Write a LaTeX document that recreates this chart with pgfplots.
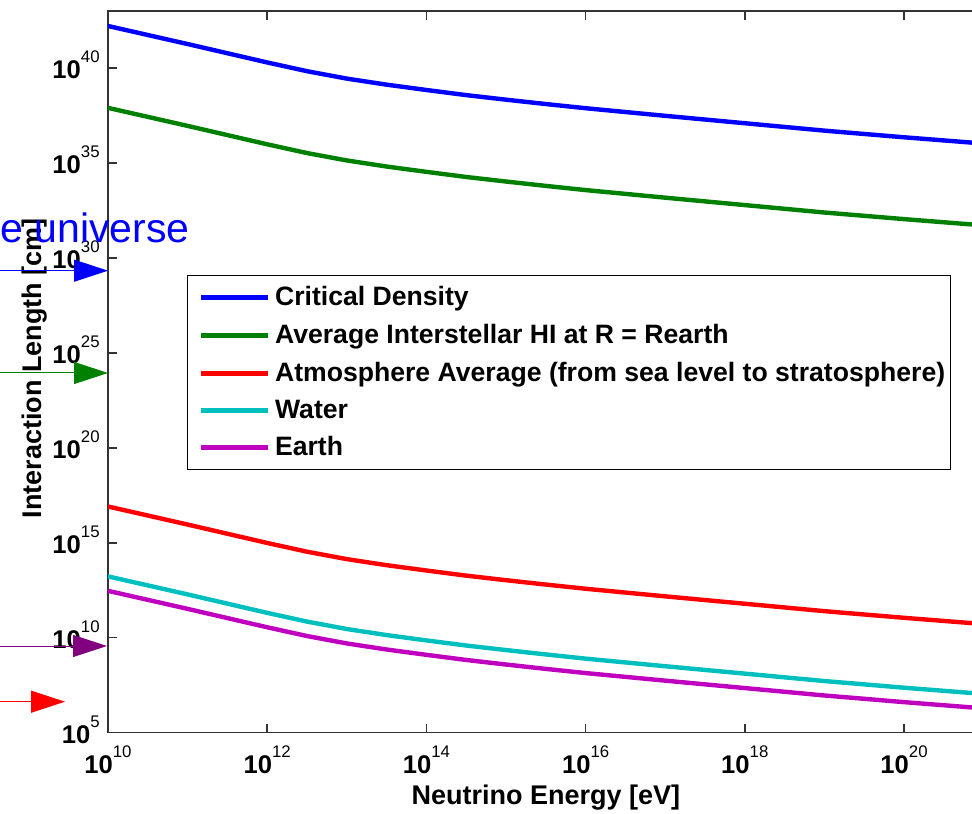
\documentclass[border=0pt]{standalone}
\usepackage{fontspec}
\setmainfont{Liberation Sans}
\usepackage{pgfplots}
\pgfplotsset{compat=1.18}
\usetikzlibrary{arrows.meta}
\definecolor{mblue}{rgb}{0,0,1}
\definecolor{mgreen}{rgb}{0,0.5,0}
\definecolor{mred}{rgb}{1,0,0}
\definecolor{mcyan}{rgb}{0,0.75,0.75}
\definecolor{mmag}{rgb}{0.75,0,0.75}
\definecolor{arrpurple}{rgb}{0.5,0,0.5}
\newcommand{\tl}[1]{\textbf{10}\raisebox{7.8pt}{\fontsize{8.4}{9}\selectfont #1}}
\begin{document}
\begin{tikzpicture}
\path[use as bounding box] (0,0) rectangle (486pt,406.5pt);
\begin{axis}[
  at={(54pt,40.15pt)}, anchor=south west,
  scale only axis, width=437.8pt, height=360.85pt,
  xmode=log, ymode=log,
  xmin=1e10, xmax=1e21, ymin=1e5, ymax=1e43,
  xtick={1e10,1e12,1e14,1e16,1e18,1e20},
  xticklabels={\tl{10},\tl{12},\tl{14},\tl{16},\tl{18},\tl{20}},
  ytick={1e5,1e10,1e15,1e20,1e25,1e30,1e35,1e40},
  yticklabels={\tl{5},\tl{10},\tl{15},\tl{20},\tl{25},\tl{30},\tl{35},\tl{40}},
  ytick pos=left,
  tick align=inside,
  major tick length=4.5pt,
  minor tick style={draw=none},
  tick style={black!80, line width=0.75pt},
  axis line style={black!80, line width=0.75pt},
  tick label style={font=\fontsize{12.8}{14}\selectfont, inner sep=0pt},
  xticklabel style={anchor=north, yshift=-6.5pt},
  yticklabel style={anchor=base east, xshift=-4pt, yshift=-5.15pt},
  xlabel={Neutrino Energy [eV]},
  ylabel={Interaction Length [cm]},
  xlabel style={at={(axis description cs:0.5,-0.0988)}, anchor=base, inner sep=0pt, font=\fontsize{13.5}{15}\selectfont\bfseries},
  ylabel style={at={(axis description cs:-0.0765,0.505)}, anchor=base, inner sep=0pt, font=\fontsize{13.5}{15}\selectfont\bfseries},
  legend cell align=left,
  legend image code/.code={\path (-3.1pt,0pt); \draw[#1, line width=2.5pt] (0pt,0pt) -- (33.5pt,0pt);},
  legend style={at={(axis description cs:0.0902,0.6345)}, anchor=north west,
    draw=black, line width=0.6pt, fill=white,
    font=\fontsize{13.3}{15}\selectfont\bfseries,
    inner xsep=2.5pt, inner ysep=3.4pt, row sep=3.8pt,
    nodes={inner xsep=0pt},
    /tikz/every odd column/.append style={column sep=2.3pt}},
]
\addplot[mblue, line width=2.2pt] coordinates {
 (1e10,1.622e42) (1e11,1.82e41) (1e12,1.95e40) (3.162e12,6.76e39) (1e13,2.75e39)
 (3.162e13,1.32e39) (1e14,6.92e38) (3.162e14,3.72e38) (1e15,2.14e38) (3.162e15,1.26e38)
 (1e16,7.59e37) (1e17,3.02e37) (1e18,1.23e37) (1e19,5.01e36) (1e20,2.24e36) (1e21,1.047e36)};
\addlegendentry{Critical Density}
\addplot[mgreen, line width=2.2pt] coordinates {
 (1e10,7.94e37) (1e11,8.91e36) (1e12,9.55e35) (3.162e12,3.31e35) (1e13,1.35e35)
 (3.162e13,6.46e34) (1e14,3.39e34) (3.162e14,1.82e34) (1e15,1.05e34) (3.162e15,6.17e33)
 (1e16,3.72e33) (1e17,1.48e33) (1e18,6.03e32) (1e19,2.45e32) (1e20,1.10e32) (1e21,5.13e31)};
\addlegendentry{Average Interstellar HI at R = Rearth}
\addplot[mred, line width=2.2pt] coordinates {
 (1e10,8.13e16) (1e11,9.12e15) (1e12,9.77e14) (3.162e12,3.39e14) (1e13,1.38e14)
 (3.162e13,6.61e13) (1e14,3.47e13) (3.162e14,1.86e13) (1e15,1.07e13) (3.162e15,6.31e12)
 (1e16,3.80e12) (1e17,1.51e12) (1e18,6.17e11) (1e19,2.51e11) (1e20,1.12e11) (1e21,5.25e10)};
\addlegendentry{Atmosphere Average (from sea level to stratosphere)}
\addplot[mcyan, line width=2.2pt] coordinates {
 (1e10,1.70e13) (1e11,1.91e12) (1e12,2.04e11) (3.162e12,7.08e10) (1e13,2.88e10)
 (3.162e13,1.38e10) (1e14,7.24e9) (3.162e14,3.89e9) (1e15,2.24e9) (3.162e15,1.32e9)
 (1e16,7.94e8) (1e17,3.16e8) (1e18,1.29e8) (1e19,5.25e7) (1e20,2.34e7) (1e21,1.10e7)};
\addlegendentry{Water}
\addplot[mmag, line width=2.2pt] coordinates {
 (1e10,2.95e12) (1e11,3.31e11) (1e12,3.55e10) (3.162e12,1.23e10) (1e13,5.01e9)
 (3.162e13,2.40e9) (1e14,1.26e9) (3.162e14,6.76e8) (1e15,3.89e8) (3.162e15,2.29e8)
 (1e16,1.38e8) (1e17,5.50e7) (1e18,2.24e7) (1e19,9.12e6) (1e20,4.07e6) (1e21,1.91e6)};
\addlegendentry{Earth}
\end{axis}
\node[anchor=base west, inner sep=0pt, text=mblue, font=\fontsize{20.5}{24}\selectfont] at (0pt,285pt) {e universe};
\draw[mblue, line width=0.5pt, -{Triangle[length=17pt,width=11pt]}] (0pt,271.15pt) -- (54pt,271.15pt);
\draw[mgreen, line width=0.5pt, -{Triangle[length=17pt,width=11pt]}] (0pt,220pt) -- (54pt,220pt);
\draw[arrpurple, line width=0.5pt, -{Triangle[length=17pt,width=11pt]}] (0pt,83.5pt) -- (53.5pt,83.5pt);
\draw[mred, line width=0.5pt, -{Triangle[length=17pt,width=11pt]}] (0pt,55.65pt) -- (32.5pt,55.65pt);
\end{tikzpicture}
\end{document}
